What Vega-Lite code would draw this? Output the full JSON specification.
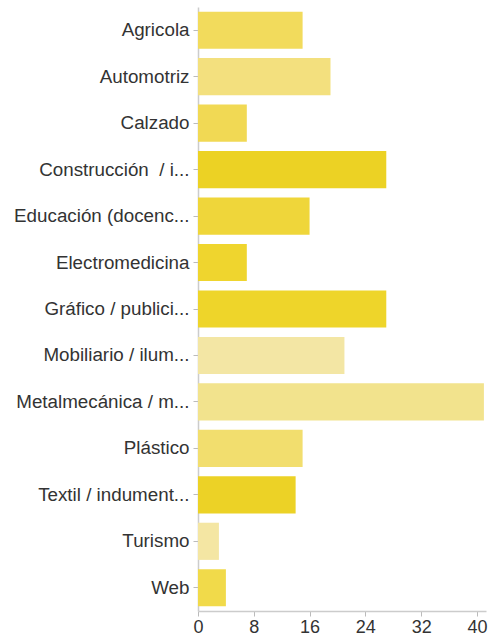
{
  "$schema": "https://vega.github.io/schema/vega-lite/v6.json",
  "width": 288,
  "height": 604,
  "autosize": {"type": "none"},
  "padding": {"left": 198, "top": 7, "right": 5, "bottom": 25},
  "background": "white",
  "config": {"view": {"stroke": null}},
  "data": {
    "values": [
      {"sector": "Agricola", "count": 15},
      {"sector": "Automotriz", "count": 19},
      {"sector": "Calzado", "count": 7},
      {"sector": "Construcción \u00a0/ i...", "count": 27},
      {"sector": "Educación (docenc...", "count": 16},
      {"sector": "Electromedicina", "count": 7},
      {"sector": "Gráfico / publici...", "count": 27},
      {"sector": "Mobiliario / ilum...", "count": 21},
      {"sector": "Metalmecánica / m...", "count": 41},
      {"sector": "Plástico", "count": 15},
      {"sector": "Textil / indument...", "count": 14},
      {"sector": "Turismo", "count": 3},
      {"sector": "Web", "count": 4}
    ]
  },
  "mark": {"type": "bar"},
  "encoding": {
    "y": {
      "field": "sector",
      "type": "nominal",
      "sort": null,
      "scale": {"paddingInner": 0.2, "paddingOuter": 0.1},
      "axis": {
        "title": null,
        "labelFont": "Liberation Sans",
        "labelFontSize": 18.8,
        "labelColor": "#333333",
        "labelLimit": 220,
        "labelPadding": 4,
        "tickSize": 5,
        "tickColor": "#bbbbbb",
        "domainColor": "#cccccc",
        "domainWidth": 1.5
      }
    },
    "x": {
      "field": "count",
      "type": "quantitative",
      "scale": {"domain": [0, 41.3], "nice": false},
      "axis": {
        "title": null,
        "values": [0, 8, 16, 24, 32, 40],
        "grid": false,
        "labelFont": "Liberation Sans",
        "labelFontSize": 18,
        "labelColor": "#333333",
        "labelPadding": 2,
        "tickSize": 5,
        "tickColor": "#bbbbbb",
        "domainColor": "#cccccc",
        "domainWidth": 1.5,
        "labelFlush": false
      }
    },
    "color": {
      "field": "sector",
      "type": "nominal",
      "legend": null,
      "scale": {
        "domain": ["Agricola", "Automotriz", "Calzado", "Construcción \u00a0/ i...", "Educación (docenc...", "Electromedicina", "Gráfico / publici...", "Mobiliario / ilum...", "Metalmecánica / m...", "Plástico", "Textil / indument...", "Turismo", "Web"],
        "range": ["#F2DB5C", "#F3E07E", "#F1D954", "#ECD224", "#EFD63A", "#EFD52E", "#EED52A", "#F3E6A4", "#F2E38D", "#F2DE6E", "#ECD226", "#F4E6A3", "#F1DA4A"]
      }
    }
  }
}
